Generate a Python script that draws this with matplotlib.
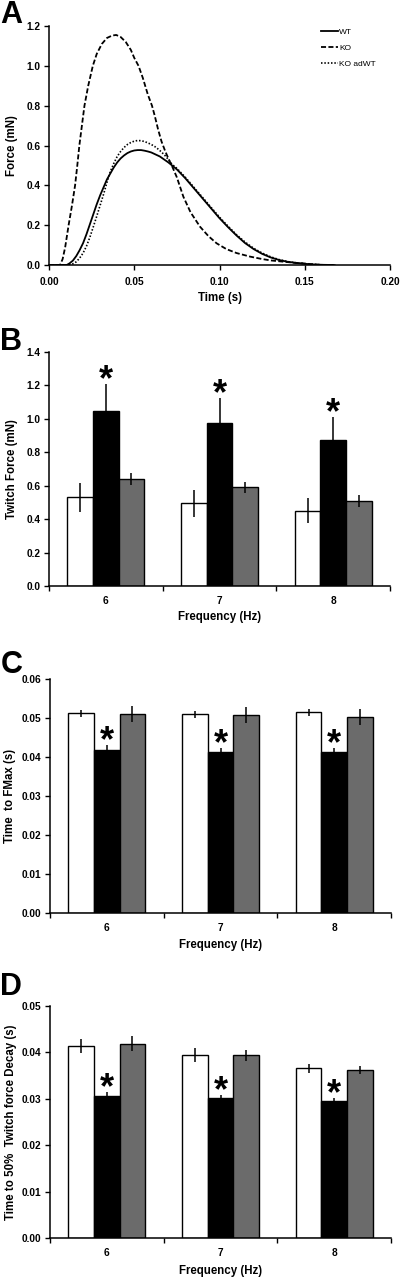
import matplotlib
matplotlib.use("Agg")
import matplotlib.pyplot as plt
from matplotlib.ticker import FormatStrFormatter, FixedLocator, NullFormatter

plt.rcParams['font.family'] = ['Liberation Sans', 'DejaVu Sans']
plt.rcParams['font.weight'] = 'bold'

# ---------------- Panel A data (twitch traces) ----------------
wt_t = [0.0, 0.0104, 0.012, 0.014, 0.016, 0.018, 0.020, 0.022, 0.024, 0.026, 0.028, 0.030,
        0.032, 0.034, 0.036, 0.038, 0.040, 0.042, 0.044, 0.046, 0.048, 0.050, 0.052, 0.054,
        0.056, 0.058, 0.060, 0.065, 0.070, 0.075, 0.080, 0.085, 0.090, 0.095, 0.100, 0.105,
        0.110, 0.115, 0.120, 0.125, 0.130, 0.135, 0.140, 0.145, 0.150, 0.155, 0.160, 0.167]
wt_f = [0.0, 0.0, 0.008, 0.022, 0.045, 0.075, 0.11, 0.155, 0.205, 0.255, 0.305, 0.35,
        0.39, 0.43, 0.46, 0.49, 0.515, 0.535, 0.55, 0.562, 0.57, 0.575, 0.577, 0.577,
        0.574, 0.57, 0.565, 0.545, 0.515, 0.48, 0.435, 0.385, 0.335, 0.285, 0.235, 0.19,
        0.148, 0.11, 0.08, 0.056, 0.038, 0.025, 0.016, 0.01, 0.006, 0.003, 0.001, 0.0]

ko_t = [0.0, 0.0065, 0.008, 0.0095, 0.0115, 0.0135, 0.0153, 0.0166, 0.0178, 0.0193, 0.0208,
        0.023, 0.0257, 0.028, 0.031, 0.034, 0.037, 0.0394, 0.042, 0.045, 0.048, 0.050, 0.0525,
        0.055, 0.058, 0.0604, 0.062, 0.064, 0.066, 0.068, 0.070, 0.0725, 0.075, 0.0788, 0.083,
        0.0886, 0.0935, 0.0983, 0.104, 0.110, 0.118, 0.125, 0.130, 0.137, 0.143, 0.149, 0.155,
        0.160]
ko_f = [0.0, 0.0, 0.03, 0.09, 0.2, 0.3, 0.4, 0.5, 0.6, 0.7, 0.8,
        0.9, 1.0, 1.06, 1.11, 1.14, 1.152, 1.155, 1.145, 1.12, 1.08, 1.04, 1.0,
        0.94, 0.855, 0.8, 0.75, 0.68, 0.62, 0.575, 0.535, 0.49, 0.44, 0.343, 0.265,
        0.192, 0.145, 0.109, 0.08, 0.06, 0.042, 0.03, 0.023, 0.017, 0.012, 0.008, 0.003,
        0.0]

ad_t = [0.0, 0.0114, 0.014, 0.016, 0.018, 0.020, 0.022, 0.024, 0.026, 0.028, 0.030, 0.032,
        0.034, 0.036, 0.038, 0.040, 0.042, 0.044, 0.046, 0.048, 0.050, 0.052, 0.054, 0.056,
        0.058, 0.060, 0.062, 0.064, 0.066, 0.068, 0.070, 0.072, 0.075, 0.080, 0.085, 0.090,
        0.095, 0.100, 0.105, 0.110, 0.115, 0.120, 0.125, 0.130, 0.135, 0.140, 0.145, 0.150,
        0.155, 0.160, 0.168]
ad_f = [0.0, 0.0, 0.006, 0.016, 0.035, 0.06, 0.095, 0.14, 0.192, 0.245, 0.30, 0.355,
        0.415, 0.47, 0.51, 0.545, 0.57, 0.59, 0.605, 0.615, 0.622, 0.625, 0.624, 0.62,
        0.613, 0.605, 0.595, 0.582, 0.567, 0.55, 0.53, 0.507, 0.485, 0.44, 0.39, 0.34,
        0.29, 0.24, 0.195, 0.152, 0.115, 0.084, 0.06, 0.041, 0.027, 0.017, 0.011, 0.007,
        0.003, 0.001, 0.0]

series_names = ['WT', 'KO', 'KO adWT']

# ---------------- Bar panels data ----------------
freq_labels = ['6', '7', '8']

twitch_wt = [0.53, 0.495, 0.45]
twitch_wt_err = [0.085, 0.08, 0.075]
twitch_ko = [1.05, 0.975, 0.875]
twitch_ko_err = [0.16, 0.15, 0.135]
twitch_ad = [0.64, 0.59, 0.51]
twitch_ad_err = [0.035, 0.035, 0.037]

ttp_wt = [0.0512, 0.0509, 0.0515]
ttp_wt_err = [0.0009, 0.0008, 0.0009]
ttp_ko = [0.0419, 0.0412, 0.0413]
ttp_ko_err = [0.0011, 0.0011, 0.0011]
ttp_ad = [0.0511, 0.0508, 0.0502]
ttp_ad_err = [0.0021, 0.002, 0.002]

decay_wt = [0.0414, 0.0394, 0.0366]
decay_wt_err = [0.0015, 0.0015, 0.001]
decay_ko = [0.0307, 0.0302, 0.0295]
decay_ko_err = [0.0007, 0.0006, 0.0006]
decay_ad = [0.0419, 0.0394, 0.0362]
decay_ad_err = [0.0016, 0.0012, 0.0009]

W, H = 400, 1277
fig = plt.figure(figsize=(W / 100, H / 100), dpi=100)


def axes_px(left, top, right, bottom):
    return fig.add_axes([left / W, 1 - bottom / H, (right - left) / W, (bottom - top) / H])


TICK_FS = 7.3
LABEL_FS = 8.3


def style_axes(ax):
    for s in ['top', 'right']:
        ax.spines[s].set_visible(False)
    for s in ['left', 'bottom']:
        ax.spines[s].set_linewidth(1.1)
        ax.spines[s].set_color('black')
    ax.tick_params(axis='both', which='major', direction='out', length=3.5, width=1.0,
                   labelsize=TICK_FS, pad=2.5)
    for lab in ax.get_xticklabels() + ax.get_yticklabels():
        lab.set_fontweight('bold')


# ---------------- Panel A ----------------
axA = axes_px(49, 26, 390, 265)
axA.plot(wt_t, wt_f, color='black', lw=1.3, label=series_names[0])
axA.plot(ko_t, ko_f, color='black', lw=1.3, dashes=(2.8, 1.3), label=series_names[1])
axA.plot(ad_t, ad_f, color='black', lw=1.2, dashes=(0.9, 1.1), label=series_names[2])
axA.set_xlim(0, 0.2)
axA.set_ylim(0, 1.2)
axA.set_xticks([0, 0.05, 0.10, 0.15, 0.20])
axA.set_yticks([0, 0.2, 0.4, 0.6, 0.8, 1.0, 1.2])
axA.xaxis.set_major_formatter(FormatStrFormatter('%.2f'))
axA.yaxis.set_major_formatter(FormatStrFormatter('%.1f'))
style_axes(axA)
axA.tick_params(axis='x', pad=5)
axA.set_xlabel('Time (s)', fontsize=LABEL_FS, fontweight='bold')
axA.set_ylabel('Force (mN)', fontsize=LABEL_FS, fontweight='bold')
axA.xaxis.set_label_coords(0.5, -(298 - 265) / 239, transform=axA.transAxes)
axA.yaxis.set_label_coords(-(49 - 12) / 341, 0.5, transform=axA.transAxes)
axA.xaxis.label.set_va('center')
axA.yaxis.label.set_va('center')
leg = axA.legend(loc='upper left', bbox_to_anchor=((321 - 49) / 341, (265 - 28) / 239),
                 frameon=False, fontsize=6.0, handlelength=2.0, handletextpad=0.15,
                 labelspacing=1.0, borderpad=0, borderaxespad=0)
for t in leg.get_texts():
    t.set_fontweight('normal')

# ---------------- Bar panels ----------------
BW = 0.225
GREY = '#6b6b6b'


def bar_panel(ax, wt, wte, ko, koe, ad, ade, ymax, ystep, fmt, ylabel, ylab_x):
    x = list(range(len(freq_labels)))
    xw = [i - BW for i in x]
    xa = [i + BW for i in x]
    eb = dict(ecolor='black', elinewidth=1.1, capsize=0)
    ax.bar(xw, wt, BW, color='white', edgecolor='black', linewidth=1.0, yerr=wte,
           error_kw=eb, zorder=2)
    ax.bar(x, ko, BW, color='black', edgecolor='black', linewidth=1.0, yerr=koe,
           error_kw=eb, zorder=2)
    ax.bar(xa, ad, BW, color=GREY, edgecolor='black', linewidth=1.0, yerr=ade,
           error_kw=eb, zorder=2)
    for i in x:
        ax.annotate('*', xy=(i, ko[i] + koe[i]), xytext=(0, -4.5), textcoords='offset points',
                    ha='center', va='baseline', fontsize=26, fontweight='bold')
    ax.set_xlim(-0.5, len(x) - 0.5)
    ax.set_ylim(0, ymax)
    n = int(round(ymax / ystep))
    ax.set_yticks([k * ystep for k in range(n + 1)])
    ax.yaxis.set_major_formatter(FormatStrFormatter(fmt))
    ax.xaxis.set_major_locator(FixedLocator([k - 0.5 for k in range(len(x) + 1)]))
    ax.xaxis.set_major_formatter(NullFormatter())
    ax.xaxis.set_minor_locator(FixedLocator(x))
    ax.set_xticklabels(freq_labels, minor=True)
    style_axes(ax)
    ax.tick_params(axis='x', which='minor', length=0, labelsize=TICK_FS, pad=7)
    for lab in ax.get_xticklabels(minor=True):
        lab.set_fontweight('bold')
    ax.set_xlabel('Frequency (Hz)', fontsize=LABEL_FS, fontweight='bold')
    ax.set_ylabel(ylabel, fontsize=LABEL_FS, fontweight='bold')
    ax.yaxis.set_label_coords(ylab_x, 0.5, transform=ax.transAxes)
    ax.yaxis.label.set_va('center')
    ax.xaxis.label.set_va('center')


axB = axes_px(49, 352, 390, 586)
bar_panel(axB, twitch_wt, twitch_wt_err, twitch_ko, twitch_ko_err, twitch_ad, twitch_ad_err,
          1.4, 0.2, '%.1f', 'Twitch Force (mN)', -(49 - 12) / 341)
axB.xaxis.set_label_coords(0.5, -(617 - 586) / 234, transform=axB.transAxes)

axC = axes_px(50, 679, 391, 913)
bar_panel(axC, ttp_wt, ttp_wt_err, ttp_ko, ttp_ko_err, ttp_ad, ttp_ad_err,
          0.06, 0.01, '%.2f', 'Time  to FMax (s)', -(50 - 10) / 341)
axC.xaxis.set_label_coords(0.5, -(945 - 913) / 234, transform=axC.transAxes)

axD = axes_px(50, 1006, 391, 1238)
bar_panel(axD, decay_wt, decay_wt_err, decay_ko, decay_ko_err, decay_ad, decay_ad_err,
          0.05, 0.01, '%.2f', 'Time to 50%  Twitch force Decay (s)', -(50 - 11) / 341)
axD.xaxis.set_label_coords(0.5, -(1271 - 1238) / 232, transform=axD.transAxes)

# panel letters
for letter, base in [('A', 23), ('B', 350), ('C', 673), ('D', 995)]:
    fig.text(0.5 / W, 1 - base / H, letter, fontsize=22, fontweight='bold',
             ha='left', va='baseline')

fig.savefig('out.png', dpi=100)
